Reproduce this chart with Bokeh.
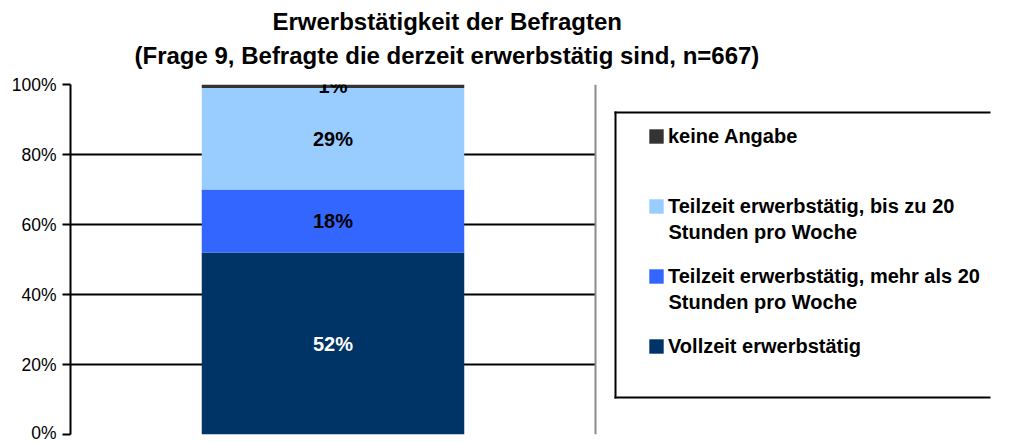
from bokeh.plotting import figure
from bokeh.models import (Range1d, Legend, LegendItem, Label, BoxAnnotation, Span,
                          FixedTicker, ColumnDataSource, Grid, Title)
from bokeh.embed import file_html
from bokeh.resources import INLINE
from bokeh.core.properties import value

# ---- data ----
categories = ["Befragte"]
series_labels = ["Vollzeit erwerbstätig",
                 "Teilzeit erwerbstätig, mehr als 20",
                 "Teilzeit erwerbstätig, bis zu 20",
                 "keine Angabe"]
series_label_line2 = ["", "Stunden pro Woche", "Stunden pro Woche", ""]
series_values = [52, 18, 29, 1]
series_colors = ["#003366", "#3366FF", "#99CCFF", "#333333"]
label_colors = ["white", "black", "black", "black"]
y_ticks = [0, 20, 40, 60, 80, 100]
title_lines = ["Erwerbstätigkeit der Befragten",
               "(Frage 9, Befragte die derzeit erwerbstätig sind, n=667)"]

FONT = "Liberation Sans"

keys = [f"s{i}" for i in range(len(series_values))]
data = {"x": [i + 0.5 for i in range(len(categories))], "cat": categories}
for k, v in zip(keys, series_values):
    data[k] = [v]
source = ColumnDataSource(data)

FW = 947
p = figure(x_range=Range1d(0, FW / 525), y_range=Range1d(0, 100),
           frame_width=FW, frame_height=350,
           min_border_left=70, min_border_top=84, min_border_bottom=8, min_border_right=0,
           output_backend="svg", toolbar_location=None)

renderers = p.vbar_stack(keys, x="x", width=0.5, source=source,
                         color=series_colors, line_color=None)

# value labels at segment midpoints
cum = 0
for v, c in zip(series_values, label_colors):
    mid = cum + v / 2
    cum += v
    p.text(x=[data["x"][0]], y=[mid], text=[f"{v}%"], text_align="center",
           text_baseline="middle", text_color=c, text_font=value(FONT),
           text_font_size="20px", text_font_style="bold")

# axes
p.xaxis.visible = False
p.yaxis.ticker = FixedTicker(ticks=y_ticks)
p.yaxis.major_label_overrides = {t: f"{t}%" for t in y_ticks}
p.yaxis.major_label_text_font = FONT
p.yaxis.major_label_text_font_size = "17.5px"
p.yaxis.major_label_text_color = "black"
p.yaxis.axis_line_color = "black"
p.yaxis.axis_line_width = 2
p.yaxis.major_tick_line_color = "black"
p.yaxis.major_tick_line_width = 2
p.yaxis.major_tick_out = 8
p.yaxis.major_tick_in = 0
p.yaxis.minor_tick_line_color = None
p.yaxis.major_label_standoff = 6

p.xgrid.visible = False
p.ygrid.ticker = FixedTicker(ticks=y_ticks[:-1])
p.ygrid.grid_line_color = "black"
p.ygrid.grid_line_width = 2
p.ygrid.cross_bounds = (0, 1)
p.add_layout(Grid(dimension=1, ticker=FixedTicker(ticks=y_ticks[-1:]), cross_bounds=(0, 1),
                  grid_line_color="#8c8c8c", grid_line_width=2))
p.outline_line_color = None
p.add_layout(Span(location=1, dimension="height", line_color="#8c8c8c", line_width=2))

# title (subtitle added first so that it sits nearer the frame)
p.add_layout(Title(text=title_lines[1], align="left", offset=64, text_font=FONT,
                   text_font_size="24px", text_font_style="bold", text_color="black",
                   standoff=32), "above")
p.add_layout(Title(text=title_lines[0], align="left", offset=202, text_font=FONT,
                   text_font_size="24px", text_font_style="bold", text_color="black",
                   standoff=-23), "above")

# legend (first lines carry the swatches; second lines are placed under them)
items = [LegendItem(label=lbl, renderers=[r]) for lbl, r in zip(series_labels, renderers)]
legend = Legend(items=items[::-1], location=(577, 76), padding=0, spacing=46,
                glyph_width=18, glyph_height=18, label_standoff=3, label_height=24,
                label_text_font=FONT, label_text_font_size="20px", label_text_font_style="bold",
                label_text_color="black", border_line_color=None, background_fill_alpha=0,
                margin=0)
p.add_layout(legend)
n = len(series_labels)
for i, t in enumerate(series_label_line2):
    if t:
        row = n - 1 - i
        p.add_layout(Label(x=668, y=136 + 70 * row + 25, x_units="canvas", y_units="canvas",
                           text=t, text_align="left", text_baseline="middle", text_font=FONT,
                           text_font_size="20px", text_font_style="bold", text_color="black"))

# legend frame (left, top and bottom edges; the right edge lies outside the picture)
for l, r, t, b in [(614, 990, 111, 113), (614, 990, 396, 398), (614, 616, 111, 398)]:
    p.add_layout(BoxAnnotation(left=l, right=r, top=t, bottom=b,
                               left_units="canvas", right_units="canvas",
                               top_units="canvas", bottom_units="canvas",
                               fill_color="black", fill_alpha=1, line_color=None,
                               line_alpha=0))

open("out.html", "w").write(file_html(p, INLINE))
